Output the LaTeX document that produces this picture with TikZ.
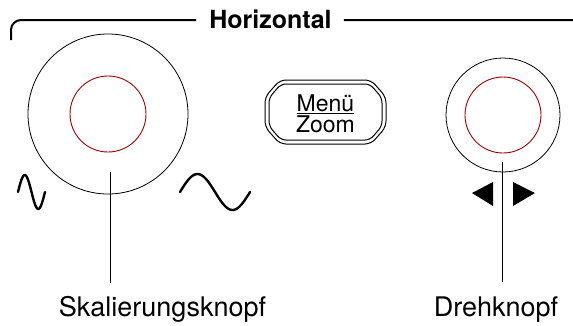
\documentclass[tikz,border=0pt]{standalone}
\usepackage{fontspec}
\setmainfont{TeX Gyre Heros}
\usetikzlibrary{positioning}

\begin{document}
\begin{tikzpicture}[
            x=1pt, y=-1pt,
            knob/.style={circle, draw, line width=0.8pt, inner sep=0pt},
            inner knob/.style={circle, draw=red!65!black, line width=0.9pt, inner sep=0pt},
            wave/.style={line width=2.4pt, line cap=round},
            lead/.style={line width=0.8pt},
            arrowhead/.style={fill=black},
            caption/.style={font=\fontsize{27}{27}\selectfont, inner sep=0pt, anchor=base},
            every node/.style={align=center}
    ]
        \useasboundingbox (0,0) rectangle (573,325);

        % Bracket with title
        \node[font=\bfseries\fontsize{25}{25}\selectfont, inner sep=0pt, anchor=base] (title) at (270.5,28) {Horizontal};
        \coordinate (brk_l) at (11,40);
        \coordinate (brk_r) at (582,40);
        \draw[line width=2pt, rounded corners=10pt] (brk_l) |- ([xshift=-13pt]title.west |- 0,20);
        \draw[line width=2pt, rounded corners=10pt] ([xshift=12pt]title.east |- 0,20) -| (brk_r);

        % Scaling knob
        \node[knob, minimum size=160pt] (knob_l) at (108,114) {};
        \node[inner knob, minimum size=76pt] (knob_l_in) at (108,114) {};
        \coordinate (skal_top) at (110,172);
        \coordinate (skal_end) at (110,283);
        \node[caption] (skal) at (162.5,316) {Skalierungsknopf};
        \draw[lead] (skal_top) -- (skal_end);

        % Waves
        \draw[wave] plot[domain=0:360, samples=40] ({18+\x/360*27}, {192-17*sin(\x)});
        \draw[wave] plot[domain=0:360, samples=50] ({180+\x/360*70}, {192-18*sin(\x)});

        % Menu button
        \draw[line width=1pt, rounded corners=6pt] (280,80) -- (371,80) -- (386,97) -- (386,127)
            -- (371,144) -- (280,144) -- (265,127) -- (265,97) -- cycle;
        \draw[line width=1pt, rounded corners=5pt] (281,84) -- (370,84) -- (382,98) -- (382,126)
            -- (370,140) -- (281,140) -- (269,126) -- (269,98) -- cycle;
        \node[font=\fontsize{23}{21}\selectfont, inner sep=0pt] (menu) at (325.5,114) {\underline{Menü}\\Zoom};

        % Rotary knob
        \node[knob, minimum size=114pt] (knob_r) at (503,115) {};
        \node[inner knob, minimum size=76pt] (knob_r_in) at (503,115) {};
        \coordinate (dreh_top) at (502,162);
        \coordinate (dreh_end) at (502,282);
        \node[caption] (dreh) at (496,316) {Drehknopf};
        \draw[lead] (dreh_top) -- (dreh_end);

        % Arrow heads
        \fill[arrowhead] (472,193) -- (493,182) -- (493,206) -- cycle;
        \fill[arrowhead] (535,193) -- (513,182) -- (513,206) -- cycle;

    \end{tikzpicture}
\end{document}
